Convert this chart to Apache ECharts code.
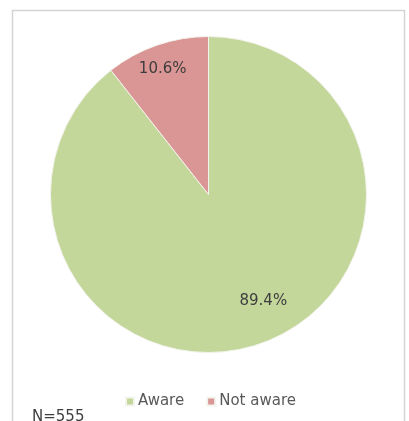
<!DOCTYPE html>
<html>
<head>
<meta charset="utf-8">
<script src="https://cdn.jsdelivr.net/npm/echarts@6/dist/echarts.min.js"></script>
<style>
  html, body { margin: 0; padding: 0; background: #ffffff; }
  #chart { width: 409px; height: 421px; }
</style>
</head>
<body>
<div id="chart"></div>
<script>
// Awareness survey results (percent of respondents)
const categories = ['Aware', 'Not aware'];
const shares = [89.4, 10.6];
const sampleNote = 'N=555';

const sliceColors = ['#c4d79b', '#d99694'];
// Per-slice nudges for the percentage labels, in px from the slice's inner position
const labelNudge = [[28, 29], [-19, -48]];

const chart = echarts.init(document.getElementById('chart'), null, { renderer: 'canvas' });

chart.setOption({
  backgroundColor: '#ffffff',
  animation: false,
  color: sliceColors,
  graphic: [{
    type: 'rect',
    shape: { x: 12.5, y: 10.5, width: 392, height: 420 },
    style: { fill: '#ffffff', stroke: '#d4d4d4', lineWidth: 1.5 },
    z: -10
  }],
  title: {
    text: sampleNote,
    left: 27,
    top: 405,
    textStyle: { fontFamily: 'DejaVu Sans', fontSize: 15, fontWeight: 'normal', color: '#3f3f3f' }
  },
  legend: {
    data: categories,
    left: 120,
    top: 389,
    icon: 'rect',
    itemWidth: 8,
    itemHeight: 8,
    itemGap: 22,
    textStyle: { fontFamily: 'DejaVu Sans', fontSize: 15, color: '#595959', padding: [0, 0, 0, -1] }
  },
  series: [{
    type: 'pie',
    center: [208.5, 194.5],
    radius: [0, 158],
    startAngle: 90,
    clockwise: true,
    silent: true,
    itemStyle: { borderColor: '#f4f4ee', borderWidth: 1 },
    label: {
      show: true,
      position: 'inside',
      formatter: p => p.value.toFixed(1) + '%',
      fontFamily: 'DejaVu Sans',
      fontSize: 15,
      color: '#3d3d3d'
    },
    labelLine: { show: false },
    labelLayout: p => ({ dx: labelNudge[p.dataIndex][0], dy: labelNudge[p.dataIndex][1] }),
    data: categories.map((name, i) => ({ name, value: shares[i] }))
  }]
});
</script>
</body>
</html>
